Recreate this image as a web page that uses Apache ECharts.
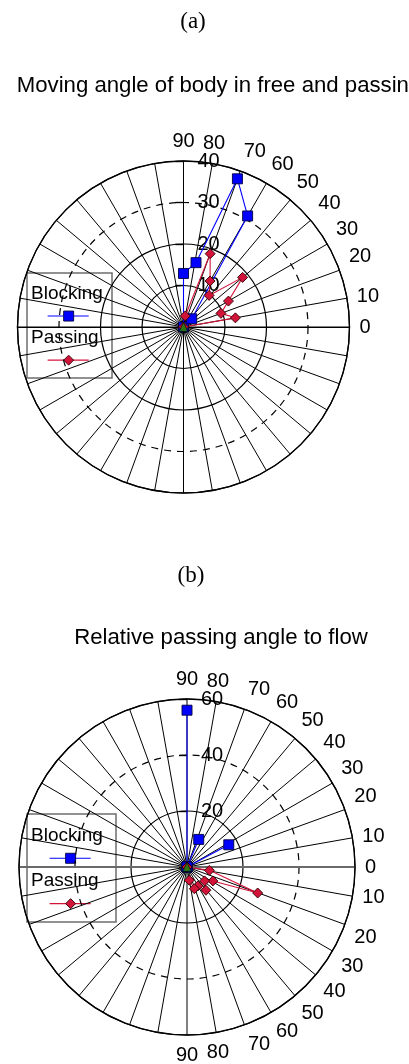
<!DOCTYPE html>
<html>
<head>
<meta charset="utf-8">
<script src="https://cdn.jsdelivr.net/npm/echarts@6/dist/echarts.min.js"></script>
<style>
  html, body { margin: 0; padding: 0; background: #ffffff; }
  #chart { width: 409px; height: 1064px; }
</style>
</head>
<body>
<div id="chart"></div>
<script>
// ---- Panel (a): moving angle of body in free and passing flow ----
// angles in degrees (0 = flow direction, counter-clockwise positive), radii in the panel's units
const blockingAngleA  = [0, 90, 79, 70, 60, 45];
const blockingRadiusA = [0, 12.9, 15.8, 38.0, 30.9, 2.8];
const passingAngleA   = [81, 70, 60, 51, 40, 30, 20, 10, 0];
const passingRadiusA  = [2.7, 18.8, 12.8, 9.8, 18.6, 12.5, 9.6, 12.7, 0];
const radiusMaxA = 40;
const radiusStepA = 10;

// ---- Panel (b): relative passing angle to flow ----
const blockingAngleB  = [0, 90, 0, 67, 0, 28];
const blockingRadiusB = [0, 56.0, 0, 10.7, 0, 16.9];
const passingAngleB   = [0, -8.5, -20.2, -28.3, -38.4, -50.8, -59.9, -71.3, -80.1];
const passingRadiusB  = [0, 8.1, 26.9, 10.5, 8.0, 10.7, 7.8, 8.2, 4.8];
const radiusMaxB = 60;
const radiusStepB = 20;

// marker at the pole of both panels
const poleAngle  = [0];
const poleRadius = [0];

const seriesNames = ['Blocking', 'Passing'];
const panelLetters = ['(a)', '(b)'];
const panelTitles = ['Moving angle of body in free and passing', 'Relative passing angle to flow'];

const BLUE = '#0000ff';
const RED = '#d2143a';
const GREEN = '#0a8a0a';
const SANS = 'Liberation Sans, Arial, sans-serif';
const SERIF = 'Liberation Serif, Times New Roman, serif';

const zip = (r, a) => r.map((v, i) => [v, a[i]]);

// geometry of the two polar panels
const panels = [
  { cx: 183.5, cy: 327, r: 166, max: radiusMaxA, step: radiusStepA,
    solidAt: [10, 20, 40], dashedAt: [30],
    flowLine: { color: '#000000', width: 1.2 },
    angleLabel: v => (v >= 0 && v <= 90 ? String(v) : ''),
    legend: { x: 27, y: 273, w: 85, h: 105 } },
  { cx: 187, cy: 867, r: 168, max: radiusMaxB, step: radiusStepB,
    solidAt: [20, 60], dashedAt: [40],
    flowLine: { color: '#6a6a6a', width: 2.2 },
    angleLabel: v => (Math.abs(v) <= 90 ? String(Math.abs(v)) : ''),
    legend: { x: 27, y: 814, w: 89, h: 108 } }
];

// per-tick colours so one set of circles is solid and another dashed
function ringColors(p, which) {
  const cols = [];
  for (let v = 0; v <= p.max; v += p.step) {
    cols.push(which.indexOf(v) >= 0 ? '#000000' : 'rgba(0,0,0,0)');
  }
  return cols;
}

const polar = [], angleAxis = [], radiusAxis = [];
const mainPolarIndex = [];
panels.forEach((p) => {
  const base = { center: [p.cx, p.cy], radius: p.r };
  // 1) main frame: spokes, outer circle, solid rings, angle labels, left half of the 0-180 line
  polar.push(Object.assign({}, base));
  mainPolarIndex.push(polar.length - 1);
  angleAxis.push({
    polarIndex: polar.length - 1,
    type: 'value', min: -180, max: 180, interval: 10,
    startAngle: 180, clockwise: false,
    axisLine: { show: true, lineStyle: { color: '#000', width: 1.3 } },
    axisTick: { show: false },
    splitLine: { show: true, lineStyle: { color: '#000', width: 1 } },
    axisLabel: { show: true, interval: 0, margin: 10, color: '#000',
                 fontFamily: SANS, fontSize: 20, formatter: p.angleLabel }
  });
  radiusAxis.push({
    polarIndex: polar.length - 1,
    type: 'value', min: 0, max: p.max, interval: p.step,
    axisLine: { show: true, lineStyle: p.flowLine },
    axisTick: { show: false }, axisLabel: { show: false },
    splitLine: { show: true, lineStyle: { color: ringColors(p, p.solidAt), width: 1.2 } }
  });
  // 2) vertical radial scale: dashed ring, labels and outer half of ticks
  polar.push(Object.assign({}, base));
  angleAxis.push({
    polarIndex: polar.length - 1,
    type: 'value', min: 0, max: 360, startAngle: 90, show: false
  });
  radiusAxis.push({
    polarIndex: polar.length - 1,
    type: 'value', min: 0, max: p.max, interval: p.step,
    axisLine: { show: false },
    axisTick: { show: true, length: 8, lineStyle: { color: '#000', width: 1.2 } },
    axisLabel: { show: true, margin: -14, align: 'left', color: '#000',
                 fontFamily: SANS, fontSize: 20,
                 formatter: v => (v === 0 ? '' : String(v)) },
    splitLine: { show: true, lineStyle: { color: ringColors(p, p.dashedAt), width: 1.2, type: [7, 6] } }
  });
  // 3) inner half of the radial ticks
  polar.push(Object.assign({}, base));
  angleAxis.push({
    polarIndex: polar.length - 1,
    type: 'value', min: 0, max: 360, startAngle: 90, show: false
  });
  radiusAxis.push({
    polarIndex: polar.length - 1,
    type: 'value', min: 0, max: p.max, interval: p.step,
    axisLine: { show: false },
    axisTick: { show: true, inside: true, length: 8, lineStyle: { color: '#000', width: 1.2 } },
    axisLabel: { show: false }, splitLine: { show: false }
  });
  // 4) right half of the 0-180 line
  polar.push(Object.assign({}, base));
  angleAxis.push({
    polarIndex: polar.length - 1,
    type: 'value', min: 0, max: 360, startAngle: 0, show: false
  });
  radiusAxis.push({
    polarIndex: polar.length - 1,
    type: 'value', min: 0, max: p.max, interval: p.step,
    axisLine: { show: true, lineStyle: p.flowLine },
    axisTick: { show: false }, axisLabel: { show: false }, splitLine: { show: false }
  });
});

function lineSeries(name, polarIndex, data, symbol, size, color, border) {
  return {
    name, type: 'line', coordinateSystem: 'polar', polarIndex,
    data, symbol, symbolSize: size, showAllSymbol: true, clip: false,
    lineStyle: { color, width: 1.1 },
    itemStyle: { color, borderColor: border, borderWidth: 0.9 },
    z: 5, animation: false
  };
}

function poleSeries(polarIndex) {
  return {
    type: 'scatter', coordinateSystem: 'polar', polarIndex, data: zip(poleRadius, poleAngle),
    symbol: 'triangle', symbolSize: 9,
    itemStyle: { color: GREEN, borderColor: '#000', borderWidth: 0.8 },
    z: 6, animation: false
  };
}

const series = [
  lineSeries(seriesNames[0], mainPolarIndex[0], zip(blockingRadiusA, blockingAngleA), 'rect', 10, BLUE, '#000040'),
  lineSeries(seriesNames[1], mainPolarIndex[0], zip(passingRadiusA, passingAngleA), 'diamond', 10, RED, '#300000'),
  poleSeries(mainPolarIndex[0]),
  lineSeries(seriesNames[0], mainPolarIndex[1], zip(blockingRadiusB, blockingAngleB), 'rect', 10, BLUE, '#000040'),
  lineSeries(seriesNames[1], mainPolarIndex[1], zip(passingRadiusB, passingAngleB), 'diamond', 10, RED, '#300000'),
  poleSeries(mainPolarIndex[1])
];

// legend boxes: name above a short sample line with its marker
function legendGraphic(L) {
  const mid = L.x + L.w * 0.49;
  const t = { fontFamily: SANS, fontSize: 19, fill: '#000' };
  const yB = L.y + L.h * 0.41, yP = L.y + L.h * 0.83;
  return {
    type: 'group', children: [
      { type: 'rect', shape: { x: L.x, y: L.y, width: L.w, height: L.h },
        style: { fill: 'none', stroke: '#6e6e6e', lineWidth: 1.5 } },
      { type: 'text', x: L.x + 4, y: L.y + L.h * 0.2,
        style: Object.assign({ text: seriesNames[0], textVerticalAlign: 'middle' }, t) },
      { type: 'line', shape: { x1: mid - 21, y1: yB, x2: mid + 20, y2: yB },
        style: { stroke: BLUE, lineWidth: 1.1 } },
      { type: 'rect', shape: { x: mid - 5, y: yB - 5, width: 10, height: 10 },
        style: { fill: BLUE, stroke: '#000040', lineWidth: 0.9 } },
      { type: 'text', x: L.x + 4, y: L.y + L.h * 0.62,
        style: Object.assign({ text: seriesNames[1], textVerticalAlign: 'middle' }, t) },
      { type: 'line', shape: { x1: mid - 21, y1: yP, x2: mid + 20, y2: yP },
        style: { stroke: RED, lineWidth: 1.1 } },
      { type: 'polygon', shape: { points: [[mid, yP - 5], [mid + 5, yP], [mid, yP + 5], [mid - 5, yP]] },
        style: { fill: RED, stroke: '#300000', lineWidth: 0.9 } }
    ]
  };
}

const titles = [
  { text: panelLetters[0], left: 188, top: 5, textAlign: 'center',
    textStyle: { fontFamily: SERIF, fontSize: 23, fontWeight: 'normal', color: '#000' } },
  { text: panelTitles[0], left: 214, top: 70, textAlign: 'center',
    textStyle: { fontFamily: SANS, fontSize: 22.2, fontWeight: 'normal', color: '#000' } },
  { text: panelLetters[1], left: 186, top: 559, textAlign: 'center',
    textStyle: { fontFamily: SERIF, fontSize: 23, fontWeight: 'normal', color: '#000' } },
  { text: panelTitles[1], left: 216, top: 622, textAlign: 'center',
    textStyle: { fontFamily: SANS, fontSize: 22.2, fontWeight: 'normal', color: '#000' } }
];

const chart = echarts.init(document.getElementById('chart'), null, { renderer: 'canvas' });
chart.setOption({
  animation: false,
  backgroundColor: '#ffffff',
  title: titles,
  polar, angleAxis, radiusAxis, series,
  graphic: panels.map(p => legendGraphic(p.legend))
});
</script>
</body>
</html>
